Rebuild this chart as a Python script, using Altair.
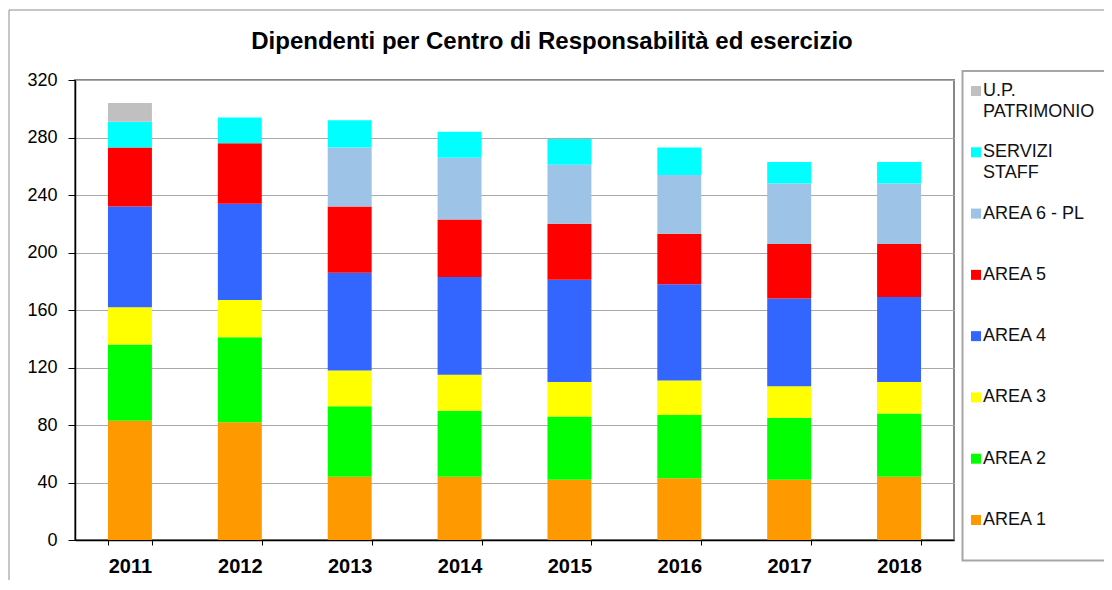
import altair as alt
import pandas as pd

years = ["2011", "2012", "2013", "2014", "2015", "2016", "2017", "2018"]
series = ["AREA 1", "AREA 2", "AREA 3", "AREA 4", "AREA 5", "AREA 6 - PL",
          "SERVIZI STAFF", "U.P. PATRIMONIO"]
area1 = [83, 82, 44, 44, 42, 43, 42, 44]
area2 = [53, 59, 49, 46, 44, 44, 43, 44]
area3 = [26, 26, 25, 25, 24, 24, 22, 22]
area4 = [70, 67, 68, 68, 71, 67, 61, 59]
area5 = [41, 42, 46, 40, 39, 35, 38, 37]
area6 = [0, 0, 41, 43, 41, 41, 42, 42]
staff = [18, 18, 19, 18, 18, 19, 15, 15]
patrimonio = [13, 0, 0, 0, 0, 0, 0, 0]
colors = ["#FF9900", "#00FF00", "#FFFF00", "#3366FF", "#FF0000", "#9DC3E6",
          "#00FFFF", "#C0C0C0"]
legend_labels = ["AREA 1", "AREA 2", "AREA 3", "AREA 4", "AREA 5", "AREA 6 - PL",
                 "SERVIZI\nSTAFF", "U.P.\nPATRIMONIO"]
y_ticks = [0, 40, 80, 120, 160, 200, 240, 280, 320]
title = "Dipendenti per Centro di Responsabilità ed esercizio"

values = [area1, area2, area3, area4, area5, area6, staff, patrimonio]
rows = []
for k, (name, vals) in enumerate(zip(series, values)):
    for yr, v in zip(years, vals):
        if v > 0:
            rows.append({"Anno": yr, "Centro": name, "Valore": v, "ord": k})
df = pd.DataFrame(rows)

leg_df = pd.DataFrame({
    "Centro": series,
    "label": legend_labels,
    "li": [7 - k for k in range(len(series))],
})

FONT = "Liberation Sans"
color_scale = alt.Scale(domain=series, range=colors)

bars = alt.Chart(df).mark_bar().encode(
    x=alt.X("Anno:N", sort=years,
            scale=alt.Scale(paddingInner=0.6, paddingOuter=0.3),
            axis=alt.Axis(title=None, labelAngle=0, labelFont=FONT, labelFontSize=20,
                          labelFontWeight="bold", labelColor="black", labelPadding=11,
                          domainColor="black", domainWidth=1.5, tickColor="black",
                          tickSize=5, tickBand="extent", grid=False)),
    y=alt.Y("Valore:Q", stack="zero",
            scale=alt.Scale(domain=[0, 320], nice=False),
            axis=alt.Axis(title=None, values=y_ticks, labelFont=FONT, labelFontSize=18,
                          labelColor="black", labelPadding=11, domainColor="black",
                          domainWidth=1.5, tickColor="black", tickSize=7,
                          grid=True, gridColor="#AAAAAA", gridWidth=1)),
    color=alt.Color("Centro:N", scale=color_scale, legend=None),
    order=alt.Order("ord:Q", sort="ascending"),
)

one = pd.DataFrame({"a": [0]})
outer_box = alt.Chart(one).mark_rect(fillOpacity=0, stroke="#8C8C8C", strokeWidth=1).encode(
    x=alt.value(-66), x2=alt.value(1200), y=alt.value(-70), y2=alt.value(700))
legend_box = alt.Chart(one).mark_rect(fillOpacity=0, stroke="#A6A6A6", strokeWidth=2).encode(
    x=alt.value(887.5), x2=alt.value(1200), y=alt.value(-9), y2=alt.value(480.5))
title_txt = alt.Chart(one).mark_text(
    text=title, font=FONT, fontSize=24, fontWeight="bold", color="black",
    align="center", baseline="middle").encode(x=alt.value(477), y=alt.value(-38))

leg_y = alt.Y("li:Q", scale=alt.Scale(domain=[0, 7], range=[11, 440]), axis=None)
leg_sym = alt.Chart(leg_df).mark_square(size=100, opacity=1).encode(
    x=alt.value(901), y=leg_y,
    color=alt.Color("Centro:N", scale=color_scale, legend=None))
leg_txt = alt.Chart(leg_df).mark_text(
    align="left", baseline="top", dy=-9, lineBreak="\n", lineHeight=21,
    font=FONT, fontSize=18, color="#111111").encode(
    x=alt.value(908), y=leg_y, text="label:N")

legend = alt.layer(leg_sym, leg_txt)

chart = alt.layer(outer_box, title_txt, bars, legend_box, legend).resolve_scale(
    y="independent"
).properties(
    width=879, height=460,
    autosize=alt.AutoSizeParams(type="none"),
    padding={"left": 67, "top": 72, "right": 150, "bottom": 40},
).configure_view(stroke="#888888", strokeWidth=2)

chart.save("out.html", embed_options={"renderer": "svg", "actions": False})
